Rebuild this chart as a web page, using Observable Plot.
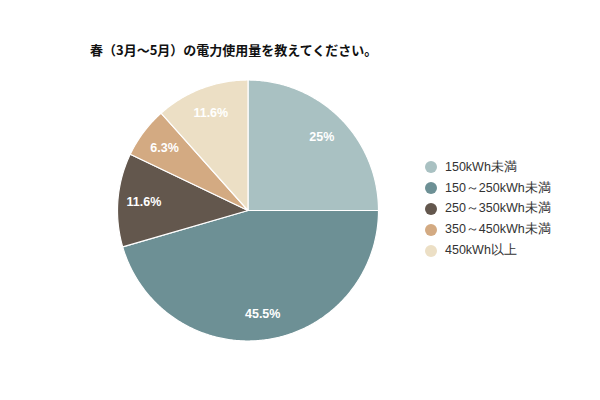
<!DOCTYPE html>
<html>
<head>
<meta charset="utf-8">
<script src="https://cdn.jsdelivr.net/npm/d3@7"></script>
<script src="https://cdn.jsdelivr.net/npm/@observablehq/plot@0.6"></script>
<style>
  body { margin: 0; background: #fff; }
  #wrap { position: relative; width: 600px; height: 400px; overflow: hidden; }
  #wrap svg { position: absolute; left: 0; top: 0; }
  #title { position: absolute; left: 90px; top: 41px; font: bold 13px "Noto Sans CJK JP", sans-serif; color: #111; white-space: nowrap; line-height: 18px; }
  #legend { position: absolute; left: 425px; top: 157px; font: 12.5px "Liberation Sans", Arial, sans-serif; color: #333; }
  .item { display: flex; align-items: center; height: 20.8px; white-space: nowrap; }
  .sw { width: 12px; height: 12px; border-radius: 50%; margin-right: 8px; }
</style>
</head>
<body>
<div id="wrap">
  <div id="title"></div>
  <div id="legend"></div>
</div>
<script>
const title = "春（3月～5月）の電力使用量を教えてください。";
const categories = ["150kWh未満", "150～250kWh未満", "250～350kWh未満", "350～450kWh未満", "450kWh以上"];
const values = [25, 45.5, 11.6, 6.3, 11.6];
const labels = ["25%", "45.5%", "11.6%", "6.3%", "11.6%"];
const colors = ["#a9c1c2", "#6d9095", "#63574d", "#d3aa82", "#ecdfc5"];

const table = categories.map((c, i) => ({category: c, value: values[i], label: labels[i]}));
const arcs = d3.pie().sort(null).value(d => d.value)(table);

function slicePolygon(a) {
  const pts = [[0, 0]];
  const n = Math.max(2, Math.ceil((a.endAngle - a.startAngle) / 0.01));
  for (let k = 0; k <= n; k++) {
    const t = a.startAngle + (a.endAngle - a.startAngle) * k / n;
    pts.push([Math.sin(t), -Math.cos(t)]);
  }
  pts.push([0, 0]);
  return {type: "Feature", properties: {category: a.data.category}, geometry: {type: "Polygon", coordinates: [pts]}};
}
const features = arcs.map(slicePolygon);
const circle = {type: "Polygon", coordinates: [d3.range(0, 361, 2).map(d => [Math.sin(d * Math.PI / 180), -Math.cos(d * Math.PI / 180)])]};
const labelPts = arcs.map(a => {
  const m = (a.startAngle + a.endAngle) / 2;
  return {x: 0.8 * Math.sin(m), y: -0.8 * Math.cos(m), label: a.data.label};
});

const chart = Plot.plot({
  width: 600,
  height: 400,
  marginLeft: 117,
  marginTop: 79.5,
  marginRight: 222,
  marginBottom: 59.5,
  projection: {type: "identity", domain: circle},
  color: {domain: categories, range: colors},
  marks: [
    Plot.geo(features, {fill: d => d.properties.category, stroke: "#fff", strokeWidth: 1.2}),
    Plot.text(labelPts, {x: "x", y: "y", text: "label", fill: "#fff", fontWeight: "bold", fontSize: 12.5, fontFamily: "Liberation Sans, Arial, sans-serif"})
  ]
});
document.getElementById("wrap").appendChild(chart);
document.getElementById("title").textContent = title;

const color = chart.scale("color");
const legend = document.getElementById("legend");
categories.forEach((c, i) => {
  const row = document.createElement("div");
  row.className = "item";
  const sw = document.createElement("span");
  sw.className = "sw";
  sw.style.background = colors[i];
  const tx = document.createElement("span");
  tx.textContent = c;
  row.appendChild(sw); row.appendChild(tx);
  legend.appendChild(row);
});
</script>
</body>
</html>
